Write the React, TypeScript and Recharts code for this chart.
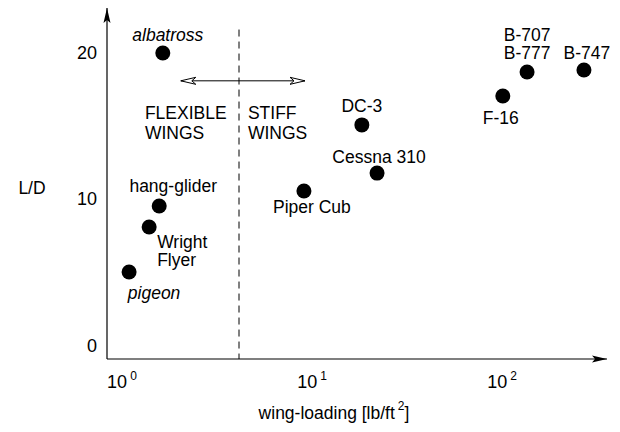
import React from "react";
import { ScatterChart, Scatter, XAxis, YAxis, ReferenceLine } from "recharts";

/**
 * Lift-to-drag ratio against wing-loading, birds to jetliners.
 */

const aircraft = [
  "pigeon",
  "Wright Flyer",
  "hang-glider",
  "albatross",
  "Piper Cub",
  "DC-3",
  "Cessna 310",
  "F-16",
  "B-777",
  "B-747",
];
const wingLoading = [1.09, 1.39, 1.57, 1.64, 9.07, 18.3, 22.0, 101, 135.5, 270];
const liftToDrag = [5.05, 8.12, 9.56, 20, 10.58, 15.09, 11.8, 17.06, 18.7, 18.84];
const pointLabels = [
  "pigeon",
  "Wright\nFlyer",
  "hang-glider",
  "albatross",
  "Piper Cub",
  "DC-3",
  "Cessna 310",
  "F-16",
  "B-707\nB-777",
  "B-747",
];
const birds = ["pigeon", "albatross"];

const xTicks = [1, 10, 100];
const yTicks = [0, 10, 20];

// "FLEXIBLE / STIFF WINGS" captions either side of the boundary
const captionLines = [
  ["FLEXIBLE", "WINGS"],
  ["STIFF", "WINGS"],
];
const captionX = [1.32, 4.6];
const captionY = [15.9, 15.9];
const boundaryX = 4.13;
const boundaryTop = 21.6;
const spanArrowX = [2.04, 9.19];
const spanArrowY = 18.1;

const FONT = "'Liberation Sans', Arial, Helvetica, sans-serif";
const FS = 17.5;

// label offsets (px) from the dot centre, per point
const labelPlace: Record<string, { dx: number; dy: number; anchor: string; gap: number }> = {
  pigeon: { dx: 25, dy: 21, anchor: "middle", gap: 0 },
  "Wright Flyer": { dx: 8, dy: 15, anchor: "start", gap: 17.5 },
  "hang-glider": { dx: 14, dy: -20, anchor: "middle", gap: 0 },
  albatross: { dx: 5, dy: -18, anchor: "middle", gap: 0 },
  "Piper Cub": { dx: 8, dy: 16, anchor: "middle", gap: 0 },
  "DC-3": { dx: 0, dy: -19, anchor: "middle", gap: 0 },
  "Cessna 310": { dx: 2, dy: -16, anchor: "middle", gap: 0 },
  "F-16": { dx: -2, dy: 22, anchor: "middle", gap: 0 },
  "B-777": { dx: 0, dy: -37.5, anchor: "middle", gap: 18.5 },
  "B-747": { dx: 3, dy: -17, anchor: "middle", gap: 0 },
};

const points = aircraft.map((name, i) => ({
  name,
  x: wingLoading[i],
  y: liftToDrag[i],
  label: pointLabels[i],
}));

const captions = captionLines.map((lines, i) => ({
  x: captionX[i],
  y: captionY[i],
  lines,
}));

const PlaneDot = (props: any) => {
  const { cx, cy, payload } = props;
  const place = labelPlace[payload.name];
  const lines: string[] = payload.label.split("\n");
  const italic = birds.includes(payload.name);
  return (
    <g>
      <circle cx={cx} cy={cy} r={7.5} fill="#000" />
      <text
        textAnchor={place.anchor as any}
        fontFamily={FONT}
        fontSize={FS}
        fontStyle={italic ? "italic" : "normal"}
        fill="#000"
      >
        {lines.map((l, k) => (
          <tspan key={k} x={cx + place.dx} y={cy + place.dy + k * place.gap + 6}>
            {l}
          </tspan>
        ))}
      </text>
    </g>
  );
};

const Caption = (props: any) => {
  const { cx, cy, payload } = props;
  return (
    <text fontFamily={FONT} fontSize={FS} fill="#000">
      {payload.lines.map((l: string, k: number) => (
        <tspan key={k} x={cx} y={cy + k * 20 + 6}>
          {l}
        </tspan>
      ))}
    </text>
  );
};

const PowerTick = (props: any) => {
  const { x, y, payload } = props;
  const exp = Math.round(Math.log10(payload.value));
  return (
    <text x={x} y={y + 29} textAnchor="middle" fontFamily={FONT} fontSize={18} fill="#000">
      <tspan>10</tspan>
      <tspan dx={3} dy={-8} fontSize={12}>
        {exp}
      </tspan>
    </text>
  );
};

const YTick = (props: any) => {
  const { x, y, payload } = props;
  return (
    <text x={x} y={y + 6} textAnchor="end" fontFamily={FONT} fontSize={18} fill="#000">
      {payload.value}
    </text>
  );
};

export default function App() {
  return (
    <div style={{ position: "absolute", left: 0, top: 0, background: "#fff" }}>
      <ScatterChart width={620} height={432} margin={{ top: 8, right: 13, bottom: 0, left: 0 }}>
        <defs>
          <marker
            id="axisHead"
            viewBox="0 0 15 8"
            refX={15}
            refY={4}
            markerWidth={15}
            markerHeight={8}
            markerUnits="userSpaceOnUse"
            orient="auto-start-reverse"
          >
            <path d="M0,0.5 L15,4 L0,7.5 L3,4 z" fill="#000" />
          </marker>
          <marker
            id="openHead"
            viewBox="-1 -1 17 10"
            refX={15}
            refY={4}
            markerWidth={17}
            markerHeight={10}
            markerUnits="userSpaceOnUse"
            orient="auto-start-reverse"
          >
            <path d="M0,0.5 L15,4 L0,7.5 L4,4 z" fill="#fff" stroke="#000" strokeWidth={1} />
          </marker>
        </defs>
        <XAxis
          type="number"
          dataKey="x"
          scale="log"
          domain={[0.834, 357]}
          ticks={xTicks}
          tick={<PowerTick />}
          tickLine={false}
          tickSize={0}
          tickMargin={0}
          height={73}
          axisLine={{ stroke: "#000", strokeWidth: 1.2, markerEnd: "url(#axisHead)" }}
          label={{
            content: ({ viewBox }: any) => (
              <text
                x={viewBox.x + 227}
                y={viewBox.y + 60}
                textAnchor="middle"
                fontFamily={FONT}
                fontSize={FS}
                fill="#000"
              >
                <tspan>wing-loading [lb/ft</tspan>
                <tspan dx={3} dy={-9} fontSize={12}>
                  2
                </tspan>
                <tspan dy={9}>]</tspan>
              </text>
            ),
          }}
        />
        <YAxis
          type="number"
          dataKey="y"
          domain={[-0.887, 23.07]}
          ticks={yTicks}
          tick={<YTick />}
          tickLine={false}
          tickSize={0}
          tickMargin={10}
          width={107}
          axisLine={{ stroke: "#000", strokeWidth: 1.2, markerStart: "url(#axisHead)" }}
          label={{
            content: ({ viewBox }: any) => (
              <text
                x={viewBox.x + 32}
                y={viewBox.y + 186}
                textAnchor="middle"
                fontFamily={FONT}
                fontSize={FS}
                fill="#000"
              >
                L/D
              </text>
            ),
          }}
        />
        <ReferenceLine
          segment={[
            { x: boundaryX, y: boundaryTop },
            { x: boundaryX, y: -0.887 },
          ]}
          shape={(p: any) => (
            <line
              x1={p.x1}
              y1={p.y1}
              x2={p.x2}
              y2={p.y2}
              stroke="#000"
              strokeWidth={1}
              strokeDasharray="7 5"
            />
          )}
        />
        <ReferenceLine
          segment={[
            { x: spanArrowX[0], y: spanArrowY },
            { x: spanArrowX[1], y: spanArrowY },
          ]}
          shape={(p: any) => (
            <line
              x1={p.x1}
              y1={p.y1}
              x2={p.x2}
              y2={p.y2}
              stroke="#000"
              strokeWidth={1}
              markerStart="url(#openHead)"
              markerEnd="url(#openHead)"
            />
          )}
        />
        <Scatter data={captions} shape={<Caption />} isAnimationActive={false} />
        <Scatter data={points} shape={<PlaneDot />} isAnimationActive={false} />
      </ScatterChart>
    </div>
  );
}
